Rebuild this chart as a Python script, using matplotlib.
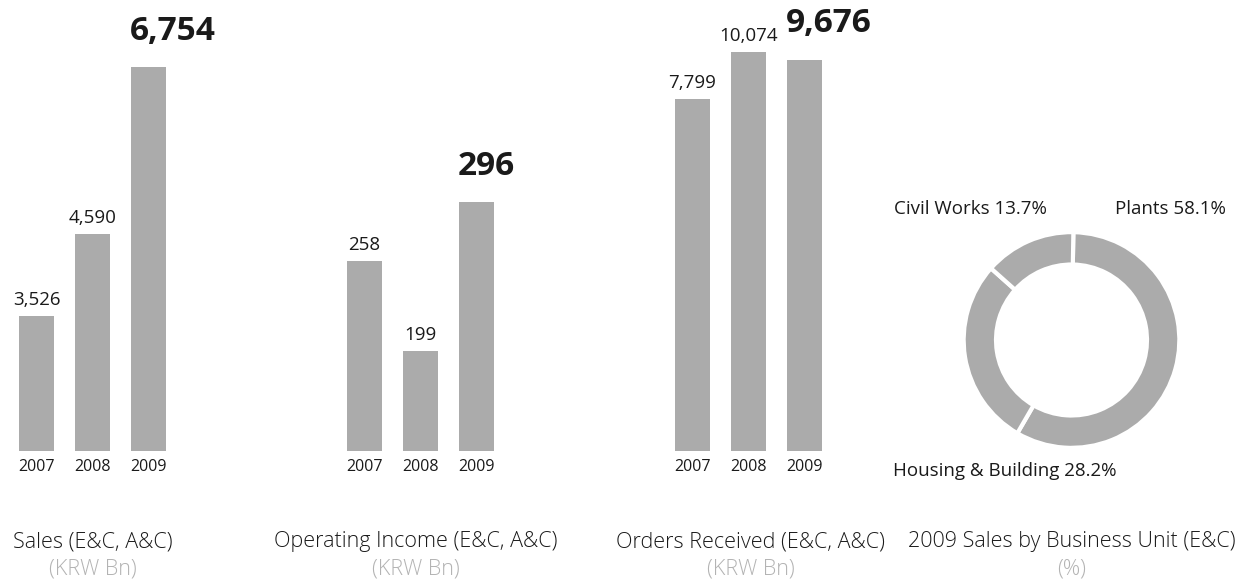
import matplotlib.pyplot as plt

plt.rcParams['font.family'] = ['Open Sans', 'DejaVu Sans']

years = ["2007", "2008", "2009"]
sales = [3526, 4590, 6754]
operating_income = [258, 199, 296]
orders_received = [7799, 10074, 9676]

unit_names = ["Plants", "Housing & Building", "Civil Works"]
unit_shares = [58.1, 28.2, 13.7]

titles = ["Sales (E&C, A&C)", "Operating Income (E&C, A&C)",
          "Orders Received (E&C, A&C)", "2009 Sales by Business Unit (E&C)"]
units = ["(KRW Bn)", "(KRW Bn)", "(KRW Bn)", "(%)"]

BAR = "#ababab"
TEXT = "#1a1a1a"
W, H = 1241, 584
BAR_W = 0.625

fig = plt.figure(figsize=(W / 100, H / 100), dpi=100)


def px_axes(left, top, width, height):
    return fig.add_axes([left / W, 1 - (top + height) / H, width / W, height / H])


# bar panels: first bar centre (px), value range of the axis (floor, ceiling)
panels = [
    (sales, 36.5, (1777, 7627)),
    (operating_income, 364.5, (134, 428)),
    (orders_received, 692.5, (-9245, 12585)),
]

for values, c0, (floor, ceil) in panels:
    ax = px_axes(c0 - 56, 0, 224, 451)
    x = list(range(len(values)))
    # bars rise from the axis floor up to their value
    ax.bar(x, [v - floor for v in values], bottom=floor, width=BAR_W, color=BAR)
    ax.set_xlim(-1, 3)
    ax.set_ylim(floor, ceil)
    ax.set_xticks(x)
    ax.set_xticklabels(years, fontsize=11.5, color=TEXT, fontweight="medium")
    ax.tick_params(axis="x", length=0, pad=6)
    ax.set_yticks([])
    for s in ax.spines.values():
        s.set_visible(False)
    for i, v in enumerate(values):
        if i == len(values) - 1:
            ax.annotate(f"{v:,}", (i - BAR_W / 2, v), xytext=(-1, 20),
                        textcoords="offset points", ha="left", va="baseline",
                        fontsize=24, fontweight="bold", color=TEXT)
        else:
            ax.annotate(f"{v:,}", (i, v), xytext=(0, 8),
                        textcoords="offset points", ha="center", va="baseline",
                        fontsize=13.5, color=TEXT)

# donut
ax = px_axes(1071.5 - 110, 340 - 110, 220, 220)
ax.pie(unit_shares, startangle=89, counterclock=False, colors=[BAR] * 3,
       radius=1.0, wedgeprops=dict(width=0.3, edgecolor="white", linewidth=3))
ax.set_xlim(-1.02, 1.02)
ax.set_ylim(-1.02, 1.02)
ax.set_aspect("equal")

fig.text(1115 / W, 1 - 209 / H, f"{unit_names[0]} {unit_shares[0]}%",
         fontsize=13.5, color=TEXT, ha="left", va="center")
fig.text(893 / W, 1 - 471 / H, f"{unit_names[1]} {unit_shares[1]}%",
         fontsize=13.5, color=TEXT, ha="left", va="center")
fig.text(894 / W, 1 - 209 / H, f"{unit_names[2]} {unit_shares[2]}%",
         fontsize=13.5, color=TEXT, ha="left", va="center")

# captions
centres = [93, 416, 751, 1072]
for cx, t, u in zip(centres, titles, units):
    fig.text(cx / W, 1 - 542 / H, t, fontsize=15.5, color=TEXT,
             ha="center", va="center", fontweight="light")
    fig.text(cx / W, 1 - 569 / H, u, fontsize=15.5, color="#b3b3b3",
             ha="center", va="center", fontweight="light")

fig.savefig("out.png", dpi=100)
